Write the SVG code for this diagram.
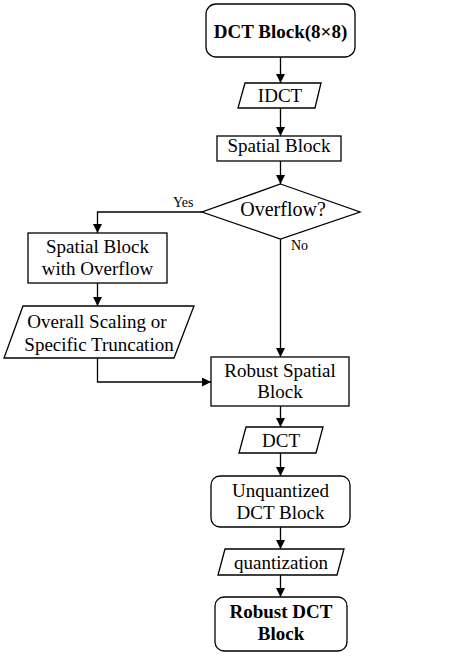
<svg xmlns="http://www.w3.org/2000/svg" width="457" height="670" viewBox="0 0 457 670">
<defs>
<marker id="arr" viewBox="0 0 10 10" refX="10" refY="5" markerWidth="9" markerHeight="9" markerUnits="userSpaceOnUse" orient="auto">
<path d="M0,0 L10,5 L0,10 Z" fill="#000"/>
</marker>
<style>
.s{fill:#fff;stroke:#000;stroke-width:1.3}
.t{font-family:"Liberation Serif","Times New Roman",serif;font-size:19px;text-anchor:middle;fill:#000}
.b{font-weight:bold}
.sm{font-family:"Liberation Serif","Times New Roman",serif;font-size:14px;fill:#000}
.c{fill:none;stroke:#000;stroke-width:1.3;marker-end:url(#arr)}
</style>
</defs>
<rect width="457" height="670" fill="#fff"/>
<g id="connectors">
<path class="c" d="M280.5,57 V83"/>
<path class="c" d="M280.5,108 V136"/>
<path class="c" d="M280.5,161 V184"/>
<path class="c" d="M202,212 H97.5 V233"/>
<path class="c" d="M97.5,283 V306"/>
<path class="c" d="M97.5,358 V382 H211"/>
<path class="c" d="M280.5,239 V357"/>
<path class="c" d="M280.5,406 V427"/>
<path class="c" d="M280.5,453 V476"/>
<path class="c" d="M280.5,527 V549"/>
<path class="c" d="M280.5,575 V597"/>
<text class="sm" x="173" y="207">Yes</text>
<text class="sm" x="291" y="250">No</text>
</g>
<g id="dct-block">
<rect class="s" x="206" y="4" width="149" height="53" rx="10"/>
<text class="t b" x="280.5" y="38">DCT Block(8×8)</text>
</g>
<g id="idct">
<polygon class="s" points="245,83 321,83 315,108 238,108"/>
<text class="t" x="280" y="102">IDCT</text>
</g>
<g id="spatial-block">
<rect class="s" x="217" y="136" width="124" height="25"/>
<text class="t" x="279" y="152">Spatial Block</text>
</g>
<g id="overflow">
<polygon class="s" points="280.5,184 360,212 280.5,239 202,212"/>
<text class="t" x="283" y="216" style="font-size:20px">Overflow?</text>
</g>
<g id="spatial-overflow">
<rect class="s" x="28" y="233" width="139" height="50"/>
<text class="t" x="97.5" y="253">Spatial Block</text>
<text class="t" x="97.5" y="275">with Overflow</text>
</g>
<g id="scaling">
<polygon class="s" points="23,306 194,306 174,358 4,358"/>
<text class="t" x="97" y="328">Overall Scaling or</text>
<text class="t" x="99" y="351">Specific Truncation</text>
</g>
<g id="robust-spatial">
<rect class="s" x="211" y="357" width="138" height="49"/>
<text class="t" x="280" y="377">Robust Spatial</text>
<text class="t" x="280" y="398">Block</text>
</g>
<g id="dct">
<polygon class="s" points="246,427 323,427 316,453 239,453"/>
<text class="t" x="281" y="447">DCT</text>
</g>
<g id="unquantized">
<rect class="s" x="211" y="476" width="139" height="51" rx="9"/>
<text class="t" x="280.5" y="497">Unquantized</text>
<text class="t" x="280.5" y="519">DCT Block</text>
</g>
<g id="quantization">
<polygon class="s" points="225,549 344,549 337,575 218,575"/>
<text class="t" x="281" y="569">quantization</text>
</g>
<g id="robust-dct">
<rect class="s" x="215" y="597" width="132" height="54" rx="9"/>
<text class="t b" x="281" y="618">Robust DCT</text>
<text class="t b" x="281" y="640">Block</text>
</g>
</svg>
